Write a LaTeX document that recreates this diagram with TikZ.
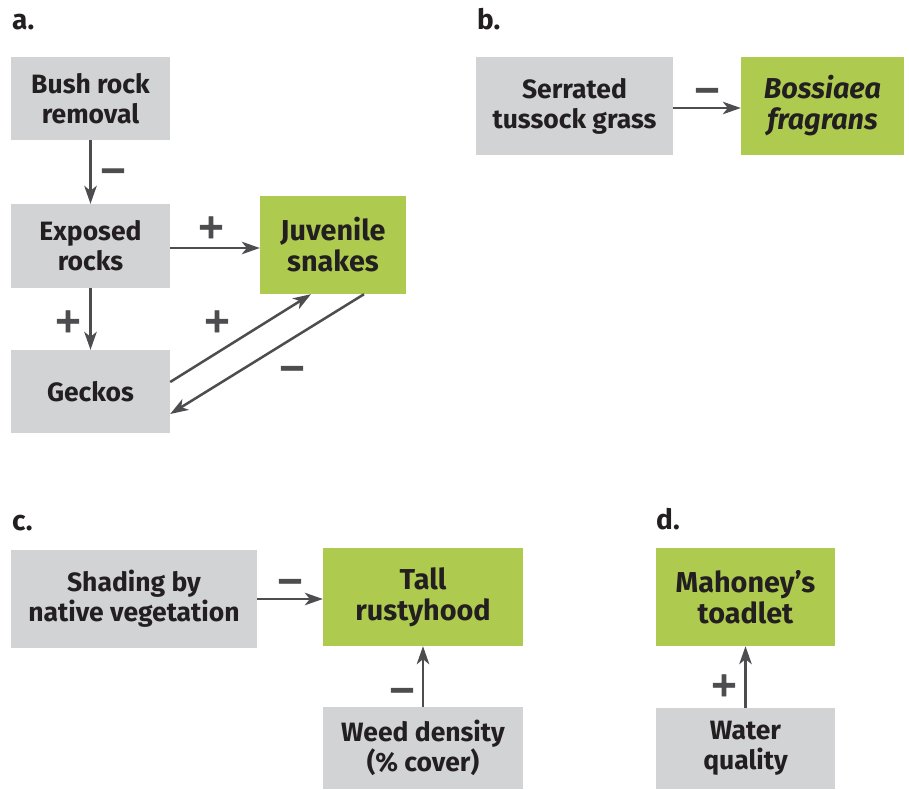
\documentclass[tikz,border=0pt]{standalone}
\usepackage{fontspec}
\setmainfont{Fira Sans}
\newfontfamily\signfont{DejaVu Sans}[BoldFeatures={FakeBold=2.5}]
\usetikzlibrary{arrows.meta}
\definecolor{boxgray}{RGB}{209,211,212}
\definecolor{boxgreen}{RGB}{175,203,79}
\definecolor{arrgray}{RGB}{77,77,79}
\definecolor{txt}{RGB}{35,31,32}
\begin{document}
\begin{tikzpicture}[x=1pt,y=-1pt,
  box/.style={rectangle, inner sep=0pt, align=center, text=txt},
  graybox/.style={box, fill=boxgray, font=\fontsize{26.5}{30}\selectfont\bfseries},
  greenbox/.style={box, fill=boxgreen, font=\fontsize{28.8}{31}\selectfont\bfseries},
  arr/.style={draw=arrgray, line width=2.5pt, -{Stealth[length=18pt,width=12.5pt,inset=5pt]}},
  sign/.style={font=\signfont\bfseries\fontsize{34}{34}\selectfont, text=arrgray, inner sep=0pt, yshift=-12pt},
  panel/.style={font=\fontsize{28}{28}\selectfont\bfseries, text=txt, anchor=base west, inner sep=0pt}]
\useasboundingbox (0,0) rectangle (909,789);

% panel labels
\node[panel] (la) at (12,30) {a.};
\node[panel] (lb) at (477,30) {b.};
\node[panel] (lc) at (12,530) {c.};
\node[panel] (ld) at (656,529) {d.};

% panel a
\node[graybox, minimum width=159pt, minimum height=83pt] (brr) at (90.5,98.5) {Bush rock\\removal};
\node[graybox, minimum width=159pt, minimum height=84pt] (er) at (90.5,246) {Exposed\\rocks};
\node[graybox, minimum width=159pt, minimum height=83pt] (ge) at (90.5,391.5) {Geckos};
\node[greenbox, minimum width=146pt, minimum height=98pt] (js) at (333,245) {Juvenile\\snakes};

\draw[arr] (brr.south) -- (er.north);
\draw[arr] ([yshift=-2pt]er.east) -- ([yshift=-2pt]er.east -| js.west);
\draw[arr] (er.south) -- (ge.north);
\draw[arr] ([yshift=9.5pt]ge.east) -- ([xshift=-22pt]js.south);
\draw[arr] ([xshift=31pt]js.south) -- ([yshift=-22.5pt]ge.east);

\node[sign] (s1) at (113,169.5) {\smash{−}};
\node[sign] (s2) at (211,226) {\smash{+}};
\node[sign] (s3) at (68,320) {\smash{+}};
\node[sign] (s4) at (217,320) {\smash{+}};
\node[sign] (s5) at (292,367) {\smash{−}};

% panel b
\node[graybox, minimum width=197pt, minimum height=98pt] (st) at (574.5,106) {Serrated\\tussock grass};
\node[greenbox, minimum width=163pt, minimum height=98pt, font=\fontsize{28.8}{31}\selectfont\bfseries\itshape] (bf) at (822.5,106) {Bossiaea\\fragrans};
\draw[arr] ([yshift=-2pt]st.east) -- ([yshift=-2pt]st.east -| bf.west);
\node[sign] (s6) at (707,89) {\smash{−}};

% panel c
\node[graybox, minimum width=246pt, minimum height=98pt] (sh) at (134,599) {Shading by\\native vegetation};
\node[greenbox, minimum width=200pt, minimum height=98pt] (tr) at (423,597) {Tall\\rustyhood};
\node[graybox, minimum width=200pt, minimum height=82pt] (wd) at (423,748) {Weed density\\(\% cover)};
\draw[arr] (sh.east) -- (sh.east -| tr.west);
\draw[arr] (wd.north) -- (tr.south);
\node[sign] (s7) at (290,580) {\smash{−}};
\node[sign] (s8) at (402,689) {\smash{−}};

% panel d
\node[greenbox, minimum width=179pt, minimum height=98pt] (mt) at (745.5,597) {Mahoney’s\\toadlet};
\node[graybox, minimum width=179pt, minimum height=81pt] (wq) at (745.5,748.5) {Water\\quality};
\draw[arr] (wq.north) -- (mt.south);
\node[sign] (s9) at (724,684) {\smash{+}};
\end{tikzpicture}
\end{document}
